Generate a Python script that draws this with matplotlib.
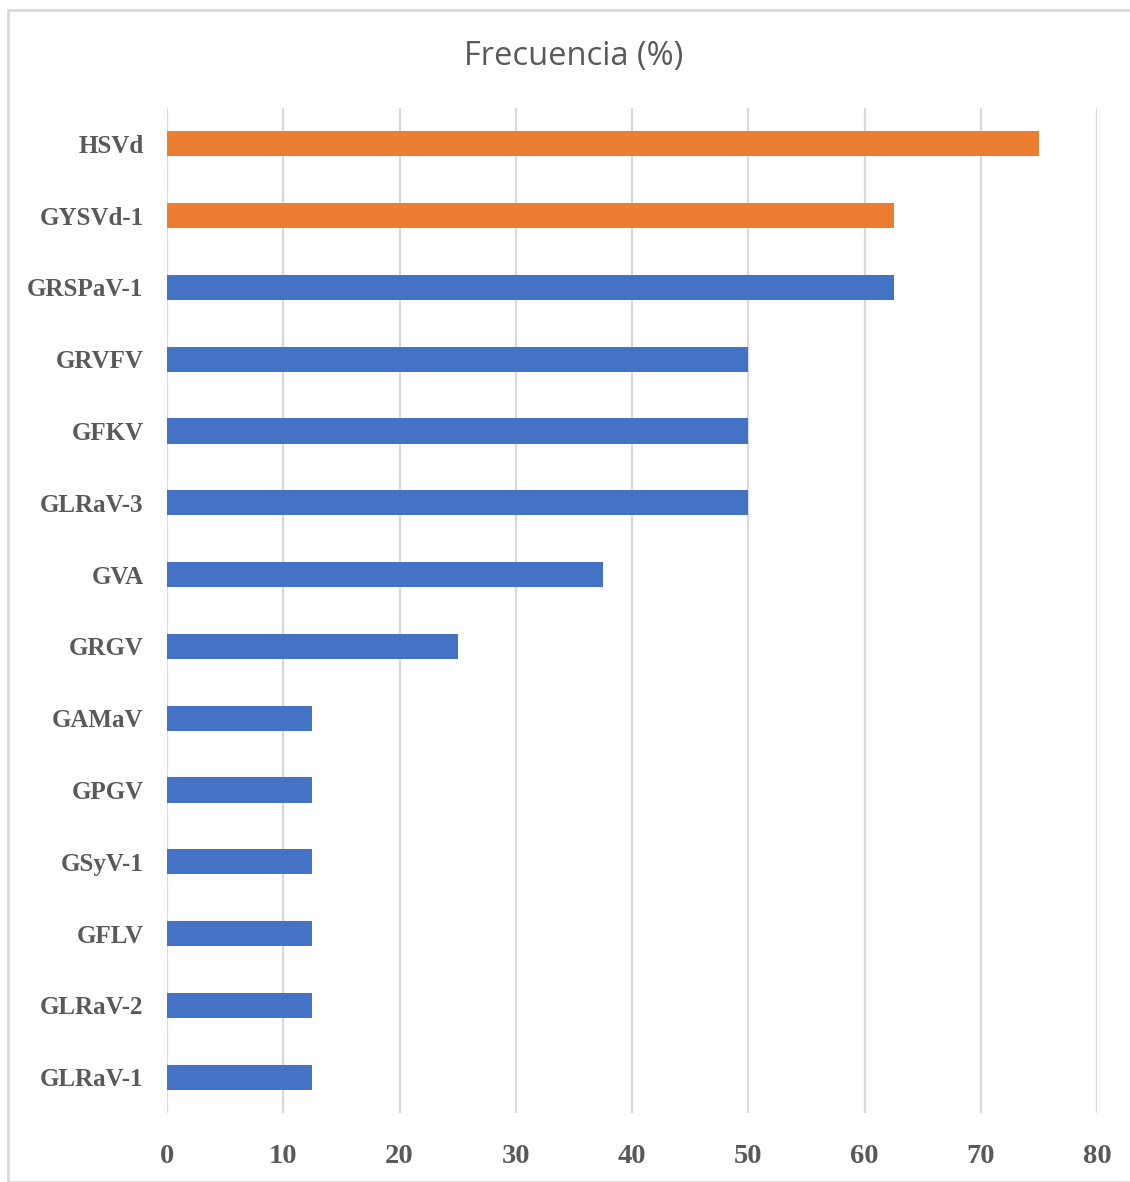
import matplotlib.pyplot as plt
from matplotlib.patches import Rectangle

# datos (de abajo hacia arriba)
virus = ['GLRaV-1', 'GLRaV-2', 'GFLV', 'GSyV-1', 'GPGV', 'GAMaV', 'GRGV',
         'GVA', 'GLRaV-3', 'GFKV', 'GRVFV', 'GRSPaV-1', 'GYSVd-1', 'HSVd']
frecuencia = [12.5, 12.5, 12.5, 12.5, 12.5, 12.5, 25,
              37.5, 50, 50, 50, 62.5, 62.5, 75]
es_viroide = [False] * 12 + [True, True]
ticks_x = [0, 10, 20, 30, 40, 50, 60, 70, 80]

azul = '#4472C4'
naranja = '#ED7D31'
gris_texto = '#595959'
gris_linea = '#D9D9D9'

plt.rcParams['font.family'] = 'Liberation Serif'
plt.rcParams['font.weight'] = 'bold'

fig = plt.figure(figsize=(11.3, 11.82), dpi=100)
ax = fig.add_axes([0.1478, 0.0584, 0.8230, 0.8502])

colores = [naranja if v else azul for v in es_viroide]
ax.barh(range(len(virus)), frecuencia, height=0.35, color=colores, zorder=3)

ax.set_xlim(0, 80)
ax.set_ylim(-0.5, len(virus) - 0.5)
ax.set_xticks(ticks_x)
ax.set_xticklabels([str(t) for t in ticks_x], fontsize=20.5, color=gris_texto)
ax.set_yticks(range(len(virus)))
ax.set_yticklabels(virus, fontsize=18, color=gris_texto)

ax.tick_params(axis='both', length=0)
ax.tick_params(axis='x', pad=22)
ax.tick_params(axis='y', pad=17)

ax.grid(axis='x', color=gris_linea, linewidth=1.6, zorder=0)
for s in ax.spines.values():
    s.set_visible(False)

fig.text(0.508, 1 - 56 / 1182, 'Frecuencia (%)', ha='center', va='center',
         fontsize=23.5, color=gris_texto, family='Open Sans', weight='normal')

# marco del gráfico
fig.patches.append(Rectangle((8 / 1130, 0), 1.0, 1 - 10 / 1182,
                             transform=fig.transFigure, fill=False,
                             edgecolor=gris_linea, linewidth=2))

fig.savefig('out.png', dpi=100)
